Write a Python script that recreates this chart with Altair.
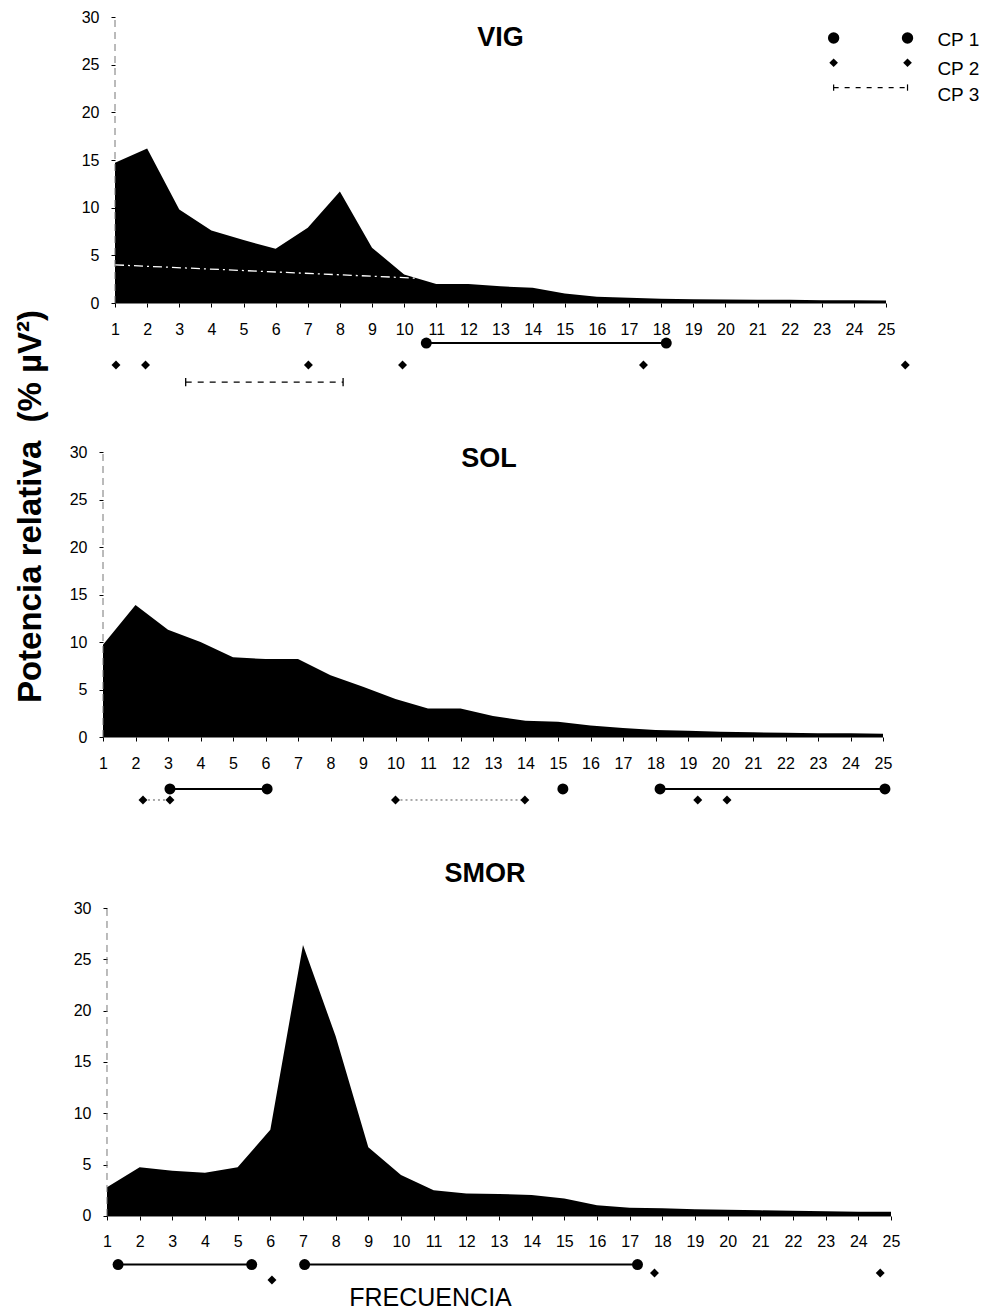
import altair as alt
import pandas as pd

FONT = "Liberation Sans"

# ---------------- data ----------------
freq = list(range(1, 26))
vig = [14.7, 16.2, 9.8, 7.6, 6.6, 5.7, 7.9, 11.7, 5.8, 3.0, 2.0, 2.0, 1.75, 1.6, 1.0,
       0.66, 0.55, 0.45, 0.4, 0.38, 0.35, 0.33, 0.3, 0.28, 0.25]
sol = [9.7, 13.9, 11.3, 10.0, 8.4, 8.2, 8.2, 6.5, 5.3, 4.0, 3.0, 3.0, 2.2, 1.7, 1.6,
       1.2, 0.95, 0.75, 0.65, 0.55, 0.5, 0.45, 0.4, 0.4, 0.35]
smor = [2.8, 4.75, 4.4, 4.2, 4.75, 8.4, 26.4, 17.5, 6.7, 4.0, 2.5, 2.2, 2.15, 2.05, 1.7,
        1.05, 0.8, 0.75, 0.65, 0.6, 0.55, 0.5, 0.45, 0.4, 0.4]

y_ticks = [0, 5, 10, 15, 20, 25, 30]

# VIG markers
vig_cp1_x = [10.69, 18.16]
vig_cp1_g = [1, 1]
vig_cp1_y = [-4.2, -4.2]
vig_cp2_x = [1.03, 1.95, 7.02, 9.95, 17.45, 25.6]
vig_cp2_g = [1, 2, 3, 4, 5, 6]
vig_cp2_y = [-6.5, -6.5, -6.5, -6.5, -6.5, -6.5]
vig_cp3_x = [3.2, 8.1]
vig_cp3_y = [-8.3, -8.3]
vig_trend_x = [1, 10.4]
vig_trend_y = [4.0, 2.6]

# SOL markers
sol_cp1_x = [3.06, 6.05, 15.15, 18.14, 25.06]
sol_cp1_g = [1, 1, 2, 3, 3]
sol_cp1_y = [-5.47] * 5
sol_cp2_x = [2.23, 3.06, 10.0, 13.98, 19.3, 20.2]
sol_cp2_g = [1, 1, 2, 2, 3, 4]
sol_cp2_y = [-6.63] * 6

# SMOR markers
smor_cp1_x = [1.34, 5.43, 7.05, 17.24]
smor_cp1_g = [1, 1, 2, 2]
smor_cp1_y = [-4.73] * 4
smor_cp2_x = [6.05, 17.76, 24.67]
smor_cp2_g = [1, 2, 3]
smor_cp2_y = [-6.24, -5.56, -5.56]

# legend (drawn in the VIG panel's scales)
leg_labels = ["CP 1", "CP 2", "CP 3"]
leg_sym_x = [23.37, 25.67]
leg_sym_y = [27.8, 25.2, 22.6]
leg_lab_x = 26.6
leg_lab_y = [27.6, 24.5, 21.8]


def panel(vals, xmin, W, ymin, H, title, t_offset, t_dx,
          cp1, cp2, cp3=None, ytitle=None, xtitle=None, legend=False, trend=None):
    kx = W / (25 - xmin)
    ky = H / (30 - ymin)
    x_off = -(0 - ymin) * ky
    y_off = -(1 - xmin) * kx

    xa_kwargs = dict(values=freq, offset=x_off, domain=False, tickSize=4, tickColor="black",
                     tickWidth=1, labelPadding=14, labelFontSize=16, labelFont=FONT,
                     labelColor="black", grid=False, labelAngle=0, format="d",
                     labelOverlap=False, labelFlush=False)
    if xtitle:
        xa_kwargs.update(title=xtitle, titleFont=FONT, titleFontSize=25, titleFontWeight="normal",
                         titleColor="black", titleX=327, titleY=90, titleAlign="center",
                         titleBaseline="alphabetic", titleAnchor="start")
    else:
        xa_kwargs.update(title=None)
    ya_kwargs = dict(values=y_ticks, offset=y_off, domain=False, tickSize=4, tickColor="black",
                     labelPadding=12, labelFontSize=16, labelFont=FONT, labelColor="black",
                     grid=False, format="d", labelOverlap=False, labelFlush=False)
    if ytitle:
        ya_kwargs.update(title=ytitle, titleFont=FONT, titleFontSize=33, titleFontWeight="bold",
                         titleColor="black", titleX=-85, titleY=489, titleAngle=270,
                         titleAlign="center", titleBaseline="middle", titleAnchor="start")
    else:
        ya_kwargs.update(title=None)

    xs = alt.Scale(domain=[xmin, 25], nice=False, zero=False)
    ys = alt.Scale(domain=[ymin, 30], nice=False, zero=False)
    X = alt.X("x:Q", scale=xs, axis=alt.Axis(**xa_kwargs))
    Y = alt.Y("y:Q", scale=ys, axis=alt.Axis(**ya_kwargs))

    layers = []
    area_df = pd.DataFrame({"x": freq, "y": vals})
    layers.append(alt.Chart(area_df).mark_area(color="black", interpolate="linear")
                  .encode(x=X, y=Y, y2=alt.datum(0)))
    if trend:
        tdf = pd.DataFrame({"x": trend[0], "y": trend[1]})
        layers.append(alt.Chart(tdf).mark_line(color="white", strokeWidth=1.3,
                                               strokeDash=[9, 4, 2, 4]).encode(x=X, y=Y))
    xr = pd.DataFrame({"x": [1], "x2": [25], "y": [0]})
    layers.append(alt.Chart(xr).mark_rule(color="black", strokeWidth=1)
                  .encode(x=X, x2="x2:Q", y=Y))
    yr = pd.DataFrame({"x": [1], "y": [0], "y2": [30]})
    layers.append(alt.Chart(yr).mark_rule(color="#777", strokeWidth=1, strokeDash=[7, 5])
                  .encode(x=X, y=Y, y2="y2:Q"))

    c1 = pd.DataFrame({"x": cp1[0], "g": cp1[1], "y": cp1[2]})
    layers.append(alt.Chart(c1).mark_line(color="black", strokeWidth=2)
                  .encode(x=X, y=Y, detail="g:N"))
    layers.append(alt.Chart(c1).mark_point(shape="circle", filled=True, color="black",
                                           size=120, opacity=1).encode(x=X, y=Y))
    c2 = pd.DataFrame({"x": cp2[0], "g": cp2[1], "y": cp2[2]})
    layers.append(alt.Chart(c2).mark_line(color="#555", strokeWidth=1, strokeDash=[2, 3])
                  .encode(x=X, y=Y, detail="g:N"))
    layers.append(alt.Chart(c2).mark_point(shape="diamond", filled=True, color="black",
                                           size=80, opacity=1).encode(x=X, y=Y))
    if cp3:
        c3 = pd.DataFrame({"x": cp3[0], "y": cp3[1]})
        layers.append(alt.Chart(c3).mark_line(color="black", strokeWidth=1.3,
                                              strokeDash=[6, 6]).encode(x=X, y=Y))
        layers.append(alt.Chart(c3).mark_point(shape="M0,-1L0,1", filled=False, color="black",
                                               strokeWidth=1.3, size=70, opacity=1)
                      .encode(x=X, y=Y))
    if legend:
        l1 = pd.DataFrame({"x": leg_sym_x, "y": [leg_sym_y[0]] * 2})
        layers.append(alt.Chart(l1).mark_point(shape="circle", filled=True, color="black",
                                               size=130, opacity=1).encode(x=X, y=Y))
        l2 = pd.DataFrame({"x": leg_sym_x, "y": [leg_sym_y[1]] * 2})
        layers.append(alt.Chart(l2).mark_point(shape="diamond", filled=True, color="black",
                                               size=75, opacity=1).encode(x=X, y=Y))
        l3 = pd.DataFrame({"x": leg_sym_x, "y": [leg_sym_y[2]] * 2})
        layers.append(alt.Chart(l3).mark_line(color="black", strokeWidth=1.2,
                                              strokeDash=[5, 6]).encode(x=X, y=Y))
        layers.append(alt.Chart(l3).mark_point(shape="M0,-1L0,1", filled=False, color="black",
                                               strokeWidth=1.2, size=40, opacity=1)
                      .encode(x=X, y=Y))
        lt = pd.DataFrame({"x": [leg_lab_x] * 3, "y": leg_lab_y, "label": leg_labels})
        layers.append(alt.Chart(lt).mark_text(align="left", baseline="middle", font=FONT,
                                              fontSize=19, color="black")
                      .encode(x=X, y=Y, text="label:N"))

    return alt.layer(*layers).properties(
        width=W, height=H,
        title=alt.TitleParams(text=title, font=FONT, fontSize=27, fontWeight="bold",
                              color="black", anchor="middle", offset=t_offset, dx=t_dx),
    )


p_vig = panel(vig, 0.626, 783, -9.86, 380, "VIG", -43, 6,
              (vig_cp1_x, vig_cp1_g, vig_cp1_y), (vig_cp2_x, vig_cp2_g, vig_cp2_y),
              cp3=(vig_cp3_x, vig_cp3_y),
              ytitle="Potencia relativa\u00a0 (% \u00b5V\u00b2)", legend=True,
              trend=(vig_trend_x, vig_trend_y))
p_sol = panel(sol, 1.0, 780, -12.21, 401, "SOL", -29, -4,
              (sol_cp1_x, sol_cp1_g, sol_cp1_y), (sol_cp2_x, sol_cp2_g, sol_cp2_y))
p_smor = panel(smor, 0.878, 788, -7.99, 390, "SMOR", 12, -12,
               (smor_cp1_x, smor_cp1_g, smor_cp1_y), (smor_cp2_x, smor_cp2_g, smor_cp2_y),
               xtitle="FRECUENCIA")

chart = alt.vconcat(p_vig, p_sol, p_smor, spacing=55, bounds="flush").properties(
    padding={"left": 14, "top": 9, "right": 5, "bottom": 0},
    background="white",
).configure_view(stroke=None)

chart.save("out.html", embed_options={"renderer": "svg", "actions": False})
